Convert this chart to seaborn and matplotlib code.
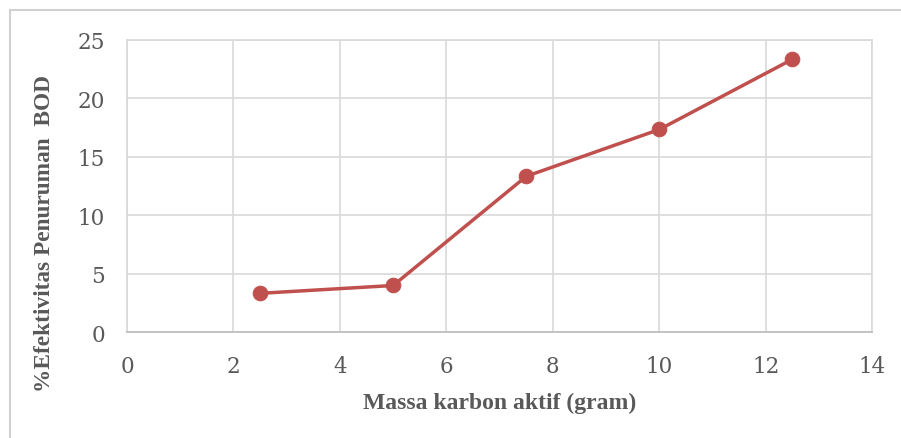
import matplotlib
matplotlib.use("Agg")
import matplotlib.pyplot as plt
import seaborn as sns
import pandas as pd
from matplotlib.patches import Rectangle

# Mass of activated carbon (gram) and BOD removal efficiency (%)
massa = [2.5, 5.0, 7.5, 10.0, 12.5]
efektivitas = [3.33, 4.0, 13.33, 17.33, 23.33]
x_ticks = [0, 2, 4, 6, 8, 10, 12, 14]
y_ticks = [0, 5, 10, 15, 20, 25]

df = pd.DataFrame({"massa": massa, "efektivitas": efektivitas})

sns.set_theme(style="white")
plt.rcParams["font.family"] = ["DejaVu Serif"]

fig = plt.figure(figsize=(9.01, 4.39), dpi=100)
ax = fig.add_axes([127 / 901, 1 - 333.3 / 439, (872.3 - 127) / 901, (333.3 - 40.7) / 439])

# outer chart frame
fig.patches.append(Rectangle((9.5 / 901, -0.2), 1.2, 1 - 10.5 / 439 + 0.2,
                             transform=fig.transFigure, fill=False,
                             edgecolor="#d0d0d0", linewidth=1.5))

sns.lineplot(data=df, x="massa", y="efektivitas", ax=ax, color="#c0504d",
             linewidth=2.5, marker="o", markersize=10.5,
             markeredgecolor="#c0504d", markerfacecolor="#c0504d")

ax.set_xlim(0, 14)
ax.set_ylim(0, 25)
ax.set_xticks(x_ticks)
ax.set_yticks(y_ticks)
ax.grid(True, color="#d9d9d9", linewidth=1.2)
ax.set_axisbelow(True)
for side in ["left", "top", "right"]:
    ax.spines[side].set_color("#d9d9d9")
    ax.spines[side].set_linewidth(1.2)
ax.spines["bottom"].set_color("#bfbfbf")
ax.spines["bottom"].set_linewidth(1.3)

ax.tick_params(axis="both", length=0, labelsize=15.5, colors="#595959")
ax.tick_params(axis="x", pad=16)
ax.tick_params(axis="y", pad=16)

ax.set_xlabel("Massa karbon aktif (gram)", fontsize=17, fontweight="bold",
              family="Liberation Serif", color="#595959")
ax.set_ylabel("%Efektivitas Penuruman  BOD", fontsize=16.8, fontweight="bold",
              family="Liberation Serif", color="#595959")
ax.xaxis.set_label_coords(0.5, (333.3 - 403) / 292.6)
ax.yaxis.set_label_coords((45 - 127) / 745.3, (333.3 - 234) / 292.6)
ax.xaxis.label.set_va("center")
ax.yaxis.label.set_va("center")

fig.savefig("out.png", dpi=100, facecolor="white")
